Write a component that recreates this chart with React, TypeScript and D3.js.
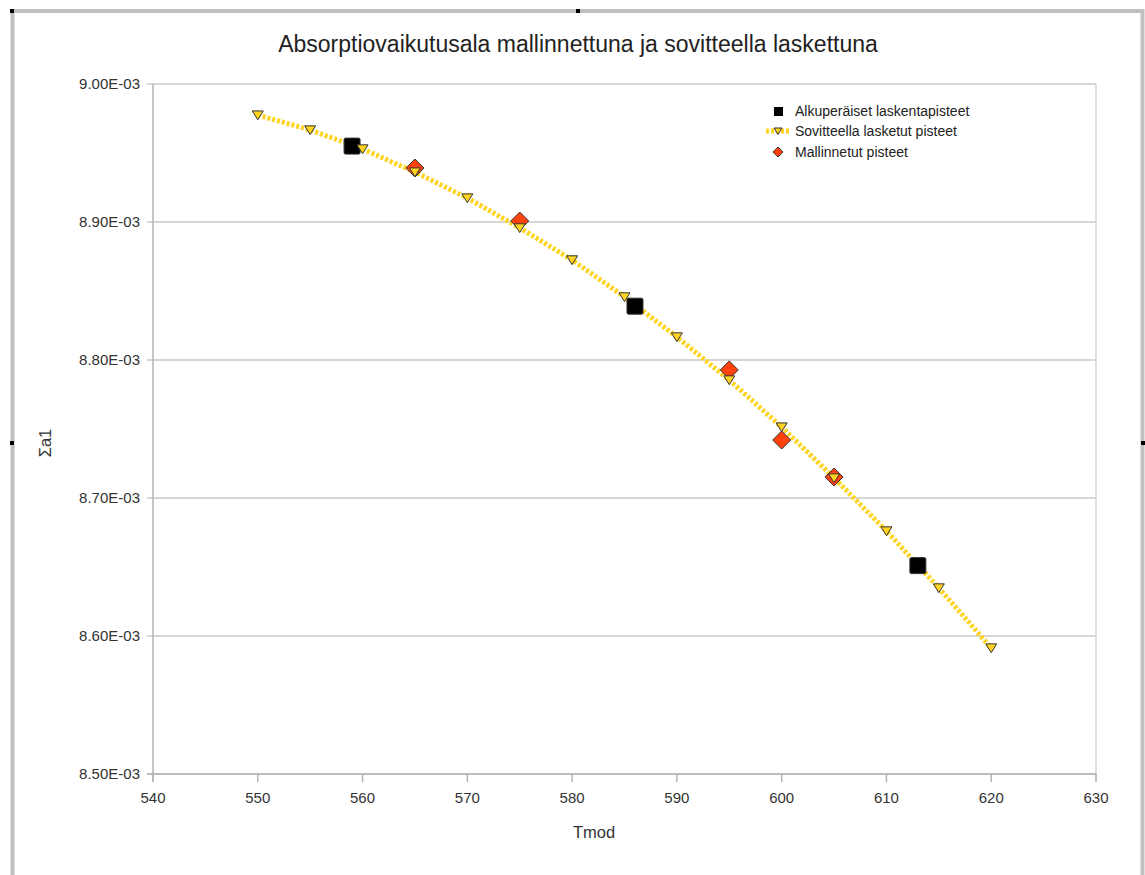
import React from 'react';
import * as d3 from 'd3';

// alkuperäiset laskentapisteet
const origT = [559, 586, 613];
const origS = [8.955e-3, 8.839e-3, 8.651e-3];

// sovitteella lasketut pisteet
const fitT = [550, 555, 560, 565, 570, 575, 580, 585, 590, 595, 600, 605, 610, 615, 620];
const fitS = [
  8.9775e-3, 8.9667e-3, 8.9529e-3, 8.9362e-3, 8.9174e-3, 8.8957e-3, 8.8725e-3, 8.8457e-3,
  8.8167e-3, 8.7855e-3, 8.7514e-3, 8.7145e-3, 8.6761e-3, 8.6348e-3, 8.5913e-3,
];

// mallinnetut pisteet
const modT = [565, 575, 595, 600, 605];
const modS = [8.9391e-3, 8.9007e-3, 8.7928e-3, 8.742e-3, 8.7152e-3];

const xTicks = [540, 550, 560, 570, 580, 590, 600, 610, 620, 630];
const yTicks = [8.5e-3, 8.6e-3, 8.7e-3, 8.8e-3, 8.9e-3, 9.0e-3];

const legendLabels = ['Alkuperäiset laskentapisteet', 'Sovitteella lasketut pisteet', 'Mallinnetut pisteet'];

const W = 1145;
const H = 875;
const FONT = '"Liberation Sans", Arial, sans-serif';
const YELLOW = '#ffd320';
const RED = '#ff420e';

const App = () => {
  const x = d3.scaleLinear().domain([540, 630]).range([153, 1096]);
  const y = d3.scaleLinear().domain([8.5e-3, 9.0e-3]).range([774, 84]);

  const fitPts = fitT.map((t, i) => [x(t), y(fitS[i])] as [number, number]);
  const line = d3.line();

  const fmt = (v: number) => v.toExponential(2).replace('e-3', 'E-03');

  const tri = (cx: number, cy: number, s: number) =>
    `M${cx - s},${cy - s * 0.75}L${cx + s},${cy - s * 0.75}L${cx},${cy + s * 0.85}Z`;
  const dia = (cx: number, cy: number, s: number) =>
    `M${cx},${cy - s}L${cx + s},${cy}L${cx},${cy + s}L${cx - s},${cy}Z`;

  const legX = 778;
  const legY = [111, 131, 152];

  return (
    <svg width={W} height={H} style={{ position: 'absolute', left: 0, top: 0, background: '#fff' }}>
      {/* kehys */}
      <rect x={12.5} y={11} width={1130} height={880} fill="none" stroke="#c0c0c0" strokeWidth={4} />
      <rect x={10} y={9} width={4} height={4} fill="#000" />
      <rect x={576} y={9} width={4} height={4} fill="#000" />
      <rect x={10} y={441} width={4} height={4} fill="#000" />
      <rect x={1141} y={441} width={4} height={4} fill="#000" />

      <text x={578} y={52} textAnchor="middle" fontFamily={FONT} fontSize={23} fill="#222">
        Absorptiovaikutusala mallinnettuna ja sovitteella laskettuna
      </text>

      {/* ruudukko */}
      {yTicks.map((v) => (
        <g key={v}>
          <line x1={147} x2={1096} y1={y(v)} y2={y(v)} stroke="#c8c8c8" strokeWidth={1.5} />
          <text x={140} y={y(v) + 5} textAnchor="end" fontFamily={FONT} fontSize={15} fill="#333">
            {fmt(v)}
          </text>
        </g>
      ))}
      <line x1={1096} x2={1096} y1={84} y2={782} stroke="#d4d4d4" strokeWidth={1.5} />
      <line x1={153} x2={153} y1={84} y2={782} stroke="#b3b3b3" strokeWidth={1.5} />
      <line x1={147} x2={1096} y1={774} y2={774} stroke="#b3b3b3" strokeWidth={1.5} />
      {xTicks.map((v) => (
        <g key={v}>
          <line x1={x(v)} x2={x(v)} y1={774} y2={782} stroke="#b3b3b3" strokeWidth={1.5} />
          <text x={x(v)} y={803} textAnchor="middle" fontFamily={FONT} fontSize={15} fill="#333">
            {v}
          </text>
        </g>
      ))}

      <text x={594} y={838} textAnchor="middle" fontFamily={FONT} fontSize={16.5} fill="#333">
        Tmod
      </text>
      <text
        transform="translate(51,443) rotate(-90)"
        textAnchor="middle"
        fontFamily={FONT}
        fontSize={16.5}
        fill="#333"
      >
        Σa1
      </text>

      {/* sovituskäyrä */}
      <path d={line(fitPts) || ''} fill="none" stroke={YELLOW} strokeWidth={5} strokeDasharray="3,2" />

      {/* alkuperäiset */}
      {origT.map((t, i) => (
        <rect
          key={t}
          x={x(t) - 8}
          y={y(origS[i]) - 8}
          width={16}
          height={16}
          rx={1.5}
          fill="#000"
          stroke="#333"
        />
      ))}

      {/* mallinnetut */}
      {modT.map((t, i) => (
        <path key={t} d={dia(x(t), y(modS[i]), 9)} fill={RED} stroke="#333" strokeWidth={1} />
      ))}

      {/* sovitteella lasketut */}
      {fitPts.map(([px, py], i) => (
        <path key={i} d={tri(px, py, 5.5)} fill={YELLOW} stroke="#333" strokeWidth={1} />
      ))}

      {/* selite */}
      <rect x={legX - 4} y={legY[0] - 4} width={9} height={9} fill="#000" />
      <line x1={legX - 12} x2={legX + 12} y1={legY[1]} y2={legY[1]} stroke={YELLOW} strokeWidth={5} strokeDasharray="3,2" />
      <path d={tri(legX, legY[1], 4)} fill={YELLOW} stroke="#333" strokeWidth={1} />
      <path d={dia(legX, legY[2], 5)} fill={RED} stroke="#333" strokeWidth={1} />
      {legendLabels.map((l, i) => (
        <text key={l} x={legX + 17} y={legY[i] + 5} fontFamily={FONT} fontSize={14} fill="#222">
          {l}
        </text>
      ))}
    </svg>
  );
};

export default App;
